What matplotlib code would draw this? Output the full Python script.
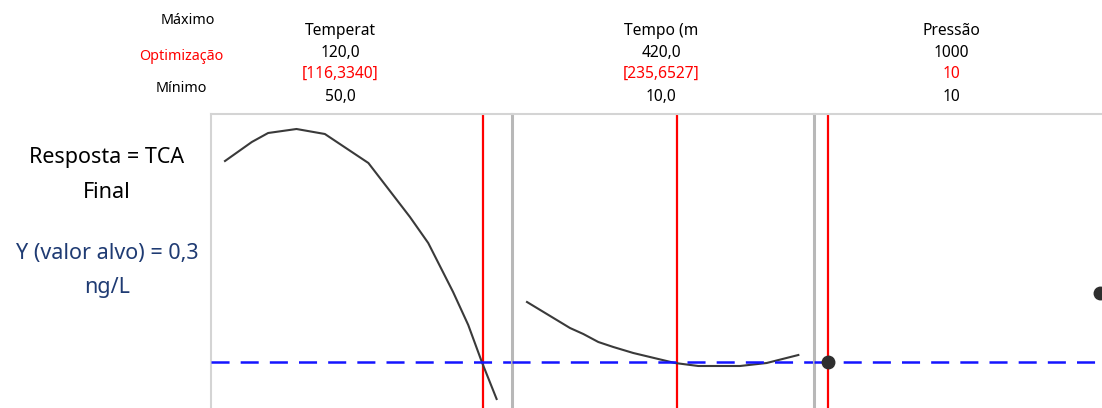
import numpy as np
import matplotlib.pyplot as plt

plt.rcParams['font.family'] = ['Noto Sans', 'DejaVu Sans']
plt.rcParams['lines.scale_dashes'] = False

# response curves (TCA final, ng/L)
temp = [50.0, 56.9, 61.1, 68.4, 75.7, 86.9, 97.6, 102.3, 108.7, 112.6, 116.1, 119.9]
temp_y = [2.31, 2.50, 2.59, 2.63, 2.58, 2.29, 1.75, 1.49, 1.00, 0.67, 0.30, -0.07]

tempo = [10, 74.8, 94.9, 117.5, 140.1, 170.2, 233.1, 268.2, 331.1, 371.3, 419]
tempo_y = [0.90, 0.64, 0.58, 0.50, 0.45, 0.39, 0.29, 0.26, 0.26, 0.29, 0.37]

pressao = [10, 1000]
pressao_y = [0.30, 0.99]

target = 0.3
opt = [116.3340, 235.6527, 10]
names = ['Temperat', 'Tempo (m', 'Pressão']
maxs = ['120,0', '420,0', '1000']
opts = ['[116,3340]', '[235,6527]', '10']
mins = ['50,0', '10,0', '10']

W, H = 1102, 408
fig = plt.figure(figsize=(W / 100, H / 100), dpi=100)

# panel layout in pixels: (left, right, px of min, px of max, min, max)
panels = [(211, 512, 225, 497, 50, 120),
          (512, 814, 527, 799, 10, 420),
          (814, 1114, 828, 1100, 10, 1000)]
top, bottom = 114, 430
series = [(temp, temp_y), (tempo, tempo_y), (pressao, pressao_y)]

axes = []
for i, (l, r, p0, p1, v0, v1) in enumerate(panels):
    ax = fig.add_axes([l / W, 1 - bottom / H, (r - l) / W, (bottom - top) / H])
    s = (p1 - p0) / (v1 - v0)
    ax.set_xlim(v0 - (p0 - l) / s, v1 + (r - p1) / s)
    ax.set_ylim(-0.38, 2.78)
    ax.set_xticks([])
    ax.set_yticks([])
    for sp in ['right', 'bottom']:
        ax.spines[sp].set_visible(False)
    ax.spines['top'].set_color('#d4d4d4')
    ax.spines['top'].set_linewidth(1.5)
    if i == 0:
        ax.spines['left'].set_color('#d4d4d4')
        ax.spines['left'].set_linewidth(1.5)
    else:
        ax.spines['left'].set_color('#b8b8b8')
        ax.spines['left'].set_linewidth(2.2)

    x, y = series[i]
    if i < 2:
        ax.plot(x, y, color='#3a3a3a', lw=1.5, zorder=3)
    else:
        ax.plot(x, y, 'o', color='#2e2e2e', ms=9, zorder=5)
    ax.axvline(opt[i], color='#ff0000', lw=1.6, zorder=2)
    ax.axhline(target, color='#1414ff', lw=1.8, ls=(0, (13, 8)), zorder=4)
    axes.append(ax)

# header texts
def fx(px):
    return px / W

def fy(py):
    return 1 - py / H

fs = 10.3
fig.text(fx(188), fy(20), 'Máximo', ha='center', va='center', fontsize=fs)
fig.text(fx(181), fy(56), 'Optimização', ha='center', va='center', fontsize=fs, color='#ff0000')
fig.text(fx(181), fy(89), 'Mínimo', ha='center', va='center', fontsize=fs)

cols = [340, 661, 951]
for c, n, mx, op, mn in zip(cols, names, maxs, opts, mins):
    fig.text(fx(c), fy(31), n, ha='center', va='center', fontsize=11.2)
    fig.text(fx(c), fy(53), mx, ha='center', va='center', fontsize=11.2)
    fig.text(fx(c), fy(74), op, ha='center', va='center', fontsize=11.2, color='#ff0000')
    fig.text(fx(c), fy(97), mn, ha='center', va='center', fontsize=11.2)

# left annotation
lfs = 15.5
fig.text(fx(107), fy(158), 'Resposta = TCA', ha='center', va='center', fontsize=lfs)
fig.text(fx(107), fy(192), 'Final', ha='center', va='center', fontsize=lfs)
fig.text(fx(107), fy(254), 'Y (valor alvo) = 0,3', ha='center', va='center', fontsize=lfs, color='#1f3b73')
fig.text(fx(107), fy(288), 'ng/L', ha='center', va='center', fontsize=lfs, color='#1f3b73')

fig.savefig('out.png', dpi=100)
